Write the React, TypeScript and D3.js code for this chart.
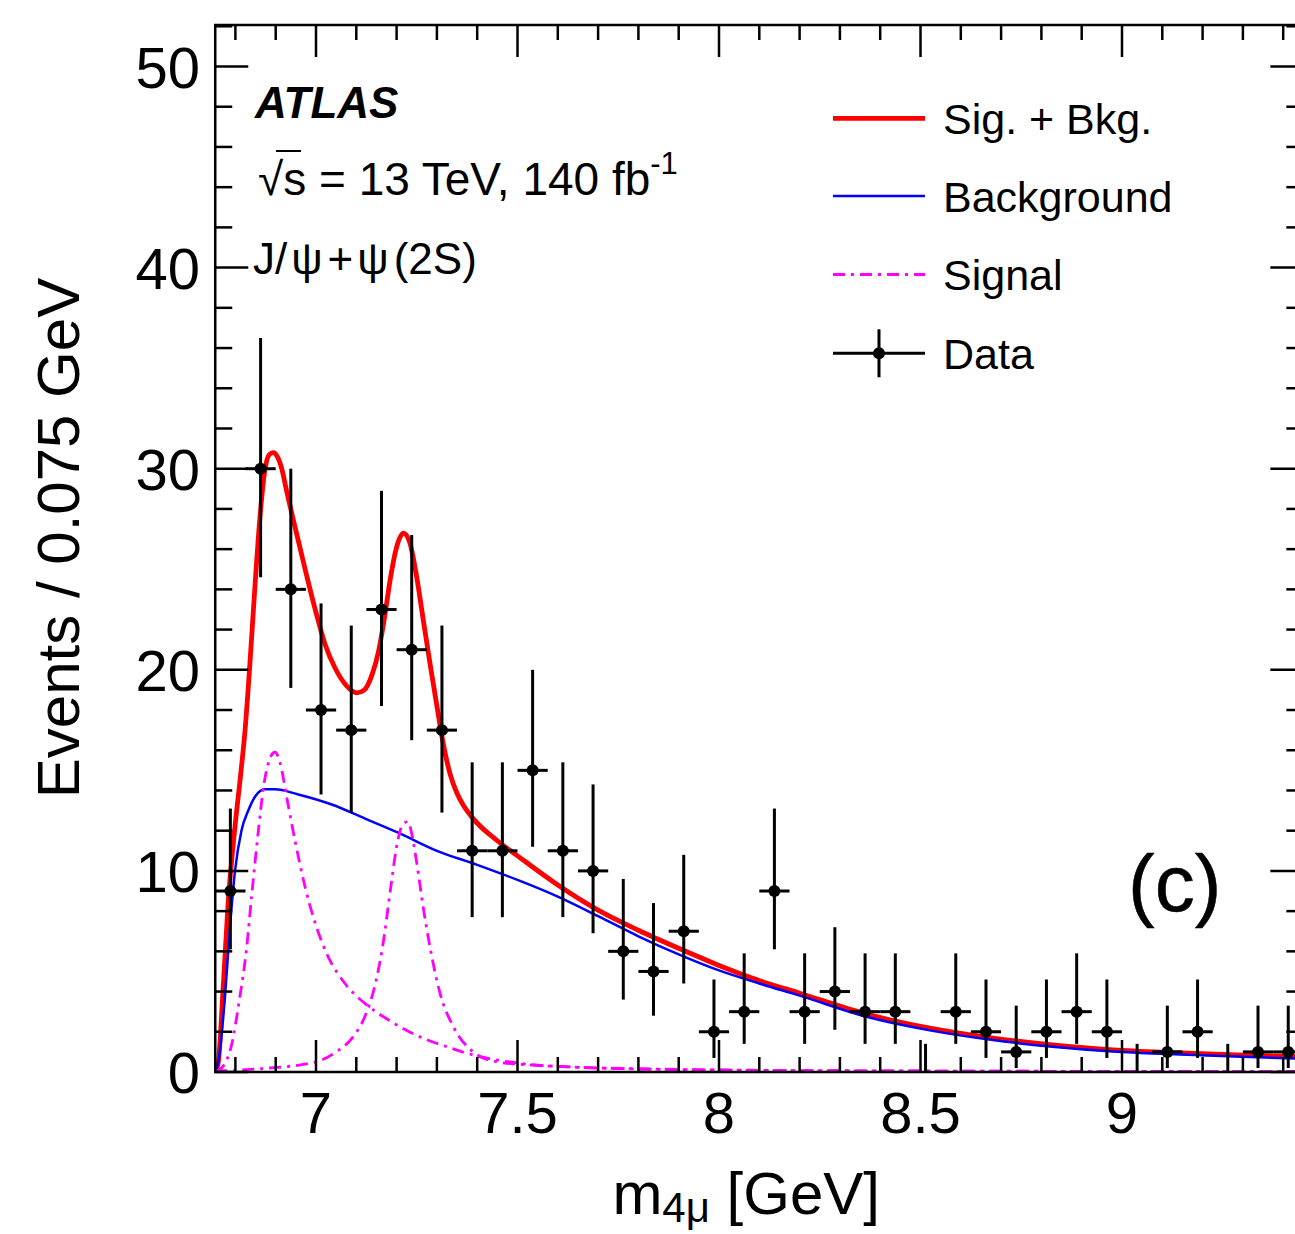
import React from 'react';
import * as d3 from 'd3';

// ---------- data ----------
const binCenters = [6.7875, 6.8625, 6.9375, 7.0125, 7.0875, 7.1625, 7.2375, 7.3125, 7.3875, 7.4625, 7.5375, 7.6125, 7.6875, 7.7625, 7.8375, 7.9125, 7.9875, 8.0625, 8.1375, 8.2125, 8.2875, 8.3625, 8.4375, 8.5125, 8.5875, 8.6625, 8.7375, 8.8125, 8.8875, 8.9625, 9.0375, 9.1125, 9.1875, 9.2625, 9.3375, 9.4125];
const counts = [9, 30, 24, 18, 17, 23, 21, 17, 11, 11, 15, 11, 10, 6, 5, 7, 2, 3, 9, 3, 4, 3, 3, 0, 3, 2, 1, 2, 3, 2, 0, 1, 2, 0, 1, 1];
const errUp = [4.1, 6.5, 6.0, 5.3, 5.2, 5.9, 5.7, 5.2, 4.4, 4.4, 5.0, 4.4, 4.3, 3.6, 3.4, 3.8, 2.6, 2.9, 4.1, 2.9, 3.2, 2.9, 2.9, 1.4, 2.9, 2.6, 2.3, 2.6, 2.9, 2.6, 1.4, 2.3, 2.6, 1.4, 2.3, 2.3];
const errDown = [2.9, 5.4, 4.9, 4.2, 4.1, 4.8, 4.5, 4.1, 3.3, 3.3, 3.8, 3.3, 3.1, 2.4, 2.2, 2.6, 1.3, 1.6, 2.9, 1.6, 1.9, 1.6, 1.6, 0, 1.6, 1.3, 0.8, 1.3, 1.6, 1.3, 0, 0.8, 1.3, 0, 0.8, 0.8];
const binHalfWidth = 0.0375;

const sigBkgCurve: [number, number][] = [
  [6.75, 0], [6.757, 0.4], [6.77, 4.3], [6.782, 8.4], [6.799, 12.2], [6.812, 14.6], [6.824, 17.0], [6.836, 20.3],
  [6.849, 24.3], [6.861, 27.6], [6.873, 29.9], [6.884, 30.7], [6.894, 30.8], [6.904, 30.6], [6.915, 30.0],
  [6.927, 28.9], [6.948, 27.1], [6.973, 25.0], [6.998, 23.0], [7.022, 21.3], [7.047, 20.1], [7.076, 19.2],
  [7.101, 18.85], [7.12, 19.0], [7.138, 19.7], [7.155, 20.9], [7.17, 22.6], [7.185, 24.6], [7.2, 26.1],
  [7.217, 26.8], [7.233, 26.3], [7.25, 24.6], [7.266, 22.5], [7.283, 20.3], [7.3, 18.2], [7.316, 16.3],
  [7.333, 14.8], [7.349, 13.9], [7.366, 13.25], [7.39, 12.6], [7.45, 11.5], [7.5, 10.75], [7.6, 9.3],
  [7.7, 8.05], [7.8, 7.05], [7.9, 6.15], [8.0, 5.3], [8.1, 4.55], [8.2, 3.92], [8.371, 2.85], [8.523, 2.18],
  [8.675, 1.7], [8.827, 1.35], [8.978, 1.1], [9.13, 0.96], [9.282, 0.85], [9.45, 0.76],
];
const backgroundCurve: [number, number][] = [
  [6.75, 0], [6.757, 0.43], [6.774, 3.7], [6.786, 7.06], [6.799, 10.0], [6.815, 12.0], [6.832, 13.0],
  [6.849, 13.7], [6.873, 14.06], [6.898, 14.06], [6.956, 13.8], [7.039, 13.3], [7.122, 12.6], [7.204, 11.9],
  [7.3, 11.0], [7.4, 10.3], [7.5, 9.55], [7.6, 8.72], [7.7, 7.75], [7.8, 6.75], [7.9, 5.85], [8.0, 5.05],
  [8.1, 4.4], [8.2, 3.8], [8.371, 2.72], [8.523, 2.07], [8.675, 1.6], [8.827, 1.26], [8.978, 1.02],
  [9.13, 0.88], [9.282, 0.77], [9.45, 0.66],
];
const signal1Curve: [number, number][] = [
  [6.75, 0], [6.77, 0.3], [6.79, 1.3], [6.81, 3.6], [6.828, 6.2], [6.84, 8.7], [6.857, 12.0], [6.87, 14.2],
  [6.884, 15.5], [6.898, 15.9], [6.912, 15.3], [6.927, 13.7], [6.948, 11.5], [6.973, 9.2], [6.998, 7.4],
  [7.031, 5.7], [7.072, 4.4], [7.122, 3.4], [7.179, 2.6], [7.241, 1.9], [7.324, 1.26], [7.407, 0.76],
  [7.506, 0.43], [7.655, 0.23], [7.8, 0.15], [8.0, 0.1], [8.5, 0.05], [9.0, 0.03], [9.45, 0.02],
];
const signal2Curve: [number, number][] = [
  [6.75, 0.05], [6.873, 0.18], [7.0, 0.5], [7.05, 1.0], [7.09, 1.7], [7.12, 2.7], [7.145, 4.2], [7.165, 6.2],
  [7.185, 9.1], [7.2, 11.2], [7.215, 12.3], [7.228, 12.45], [7.24, 11.6], [7.25, 10.4], [7.266, 8.2],
  [7.283, 6.2], [7.308, 3.9], [7.341, 2.25], [7.39, 1.0], [7.448, 0.51], [7.531, 0.35], [7.655, 0.23],
  [7.8, 0.16], [8.0, 0.1], [8.5, 0.05], [9.0, 0.03], [9.45, 0.02],
];

const xMajorTicks = [7, 7.5, 8, 8.5, 9];
const xTickLabels = ['7', '7.5', '8', '8.5', '9'];
const yMajorTicks = [0, 10, 20, 30, 40, 50];
const yTickLabels = ['0', '10', '20', '30', '40', '50'];
const legendEntries = ['Sig. + Bkg.', 'Background', 'Signal', 'Data'];

// ---------- layout ----------
const W = 1295;
const H = 1234;
const FONT = '"Liberation Sans", Arial, Helvetica, sans-serif';

export default function App() {
  const x = d3.scaleLinear().domain([7, 9]).range([316, 1122]);
  const y = d3.scaleLinear().domain([0, 50]).range([1072, 66.5]);
  const left = x(6.75);
  const right = x(9.45);
  const top = 25;
  const bottom = y(0);

  const xMinor = d3.range(6.8, 9.45, 0.1).filter((v) => !xMajorTicks.some((m) => Math.abs(m - v) < 1e-6));
  const yMinor = d3.range(0, 52.01, 2).filter((v) => v % 10 !== 0);

  const line = d3
    .line<[number, number]>()
    .x((d) => x(d[0]))
    .y((d) => y(d[1]))
    .curve(d3.curveMonotoneX);

  const legX0 = 833;
  const legX1 = 925;
  const legRows = [118.3, 196, 274.5, 353.3];
  const sigDash = '12,6,3,6';

  return (
    <svg
      width={W}
      height={H}
      style={{ position: 'absolute', left: 0, top: 0, background: '#fff' }}
      fontFamily={FONT}
    >
      <defs>
        <clipPath id="plotclip">
          <rect x={left} y={top} width={right - left} height={bottom - top} />
        </clipPath>
      </defs>
      <rect x={0} y={0} width={W} height={H} fill="#fff" />

      {/* curves */}
      <g clipPath="url(#plotclip)" fill="none">
        <path d={line(sigBkgCurve) || ''} stroke="#ff0000" strokeWidth={4.8} strokeLinejoin="round" />
        <path d={line(backgroundCurve) || ''} stroke="#0000ff" strokeWidth={2.5} />
        <path d={line(signal1Curve) || ''} stroke="#ff00ff" strokeWidth={2.8} strokeDasharray={sigDash} />
        <path d={line(signal2Curve) || ''} stroke="#ff00ff" strokeWidth={2.8} strokeDasharray={sigDash} />
      </g>

      {/* data */}
      <g stroke="#000" strokeWidth={3}>
        {binCenters.map((c, i) => {
          const v = counts[i];
          const cx = x(c);
          return (
            <g key={i}>
              <line x1={cx} x2={cx} y1={y(v + errUp[i])} y2={y(Math.max(0, v - errDown[i]))} />
              {v > 0 && <line x1={x(c - binHalfWidth)} x2={x(c + binHalfWidth)} y1={y(v)} y2={y(v)} />}
              {v > 0 && <circle cx={cx} cy={y(v)} r={6} fill="#000" stroke="none" />}
            </g>
          );
        })}
      </g>

      {/* frame */}
      <rect x={left} y={top} width={right - left} height={bottom - top} fill="none" stroke="#000" strokeWidth={2.5} />

      {/* ticks */}
      <g stroke="#000" strokeWidth={2.5}>
        {xMajorTicks.map((v) => (
          <g key={'xM' + v}>
            <line x1={x(v)} x2={x(v)} y1={bottom} y2={bottom - 32} />
            <line x1={x(v)} x2={x(v)} y1={top} y2={top + 32} />
          </g>
        ))}
        {xMinor.map((v) => (
          <g key={'xm' + v}>
            <line x1={x(v)} x2={x(v)} y1={bottom} y2={bottom - 15} />
            <line x1={x(v)} x2={x(v)} y1={top} y2={top + 15} />
          </g>
        ))}
        {yMajorTicks.map((v) => (
          <g key={'yM' + v}>
            <line x1={left} x2={left + 33} y1={y(v)} y2={y(v)} />
            <line x1={right} x2={right - 33} y1={y(v)} y2={y(v)} />
          </g>
        ))}
        {yMinor.map((v) => (
          <g key={'ym' + v}>
            <line x1={left} x2={left + 17} y1={y(v)} y2={y(v)} />
            <line x1={right} x2={right - 17} y1={y(v)} y2={y(v)} />
          </g>
        ))}
      </g>

      {/* tick labels */}
      <g fontSize={58} fill="#000">
        {xMajorTicks.map((v, i) => (
          <text key={'xl' + v} x={x(v)} y={1133} textAnchor="middle">
            {xTickLabels[i]}
          </text>
        ))}
        {yMajorTicks.map((v, i) => (
          <text key={'yl' + v} x={200} y={y(v) + 21} textAnchor="end">
            {yTickLabels[i]}
          </text>
        ))}
      </g>

      {/* axis titles */}
      <text x={880} y={1214} fontSize={60} textAnchor="end" fill="#000">
        m<tspan fontSize={42} dy={8}>4μ</tspan>
        <tspan dy={-8}> [GeV]</tspan>
      </text>
      <text transform="translate(79,538) rotate(-90)" fontSize={60} textAnchor="middle" fill="#000">
        Events / 0.075 GeV
      </text>

      {/* ATLAS labels */}
      <text x={255} y={118} fontSize={44} fontWeight="bold" fontStyle="italic" fill="#000">
        ATLAS
      </text>
      <text x={258} y={195} fontSize={46} fill="#000">
        √s = 13 TeV, 140 fb<tspan fontSize={31} dy={-21}>-1</tspan>
      </text>
      <line x1={276} x2={301} y1={151} y2={151} stroke="#000" strokeWidth={2} />
      <text x={253} y={274} fontSize={44} fill="#000">
        J/<tspan dx={4}>ψ</tspan>
        <tspan dx={5}>+</tspan>
        <tspan dx={4}>ψ</tspan>
        <tspan dx={5}>(2S)</tspan>
      </text>

      {/* panel label */}
      <text x={1128} y={911} fontSize={80} fill="#000" stroke="#000" strokeWidth={0.5}>
        (c)
      </text>

      {/* legend */}
      <g>
        <line x1={legX0} x2={legX1} y1={legRows[0]} y2={legRows[0]} stroke="#ff0000" strokeWidth={4.8} />
        <line x1={legX0} x2={legX1} y1={legRows[1]} y2={legRows[1]} stroke="#0000ff" strokeWidth={2.5} />
        <line x1={legX0} x2={legX1} y1={legRows[2]} y2={legRows[2]} stroke="#ff00ff" strokeWidth={2.8} strokeDasharray={sigDash} />
        <line x1={legX0} x2={legX1} y1={legRows[3]} y2={legRows[3]} stroke="#000" strokeWidth={3} />
        <line x1={(legX0 + legX1) / 2} x2={(legX0 + legX1) / 2} y1={legRows[3] - 24} y2={legRows[3] + 24} stroke="#000" strokeWidth={3} />
        <circle cx={(legX0 + legX1) / 2} cy={legRows[3]} r={6} fill="#000" />
        {legendEntries.map((t, i) => (
          <text key={t} x={943} y={legRows[i] + 15.5} fontSize={43} fill="#000">
            {t}
          </text>
        ))}
      </g>
    </svg>
  );
}
